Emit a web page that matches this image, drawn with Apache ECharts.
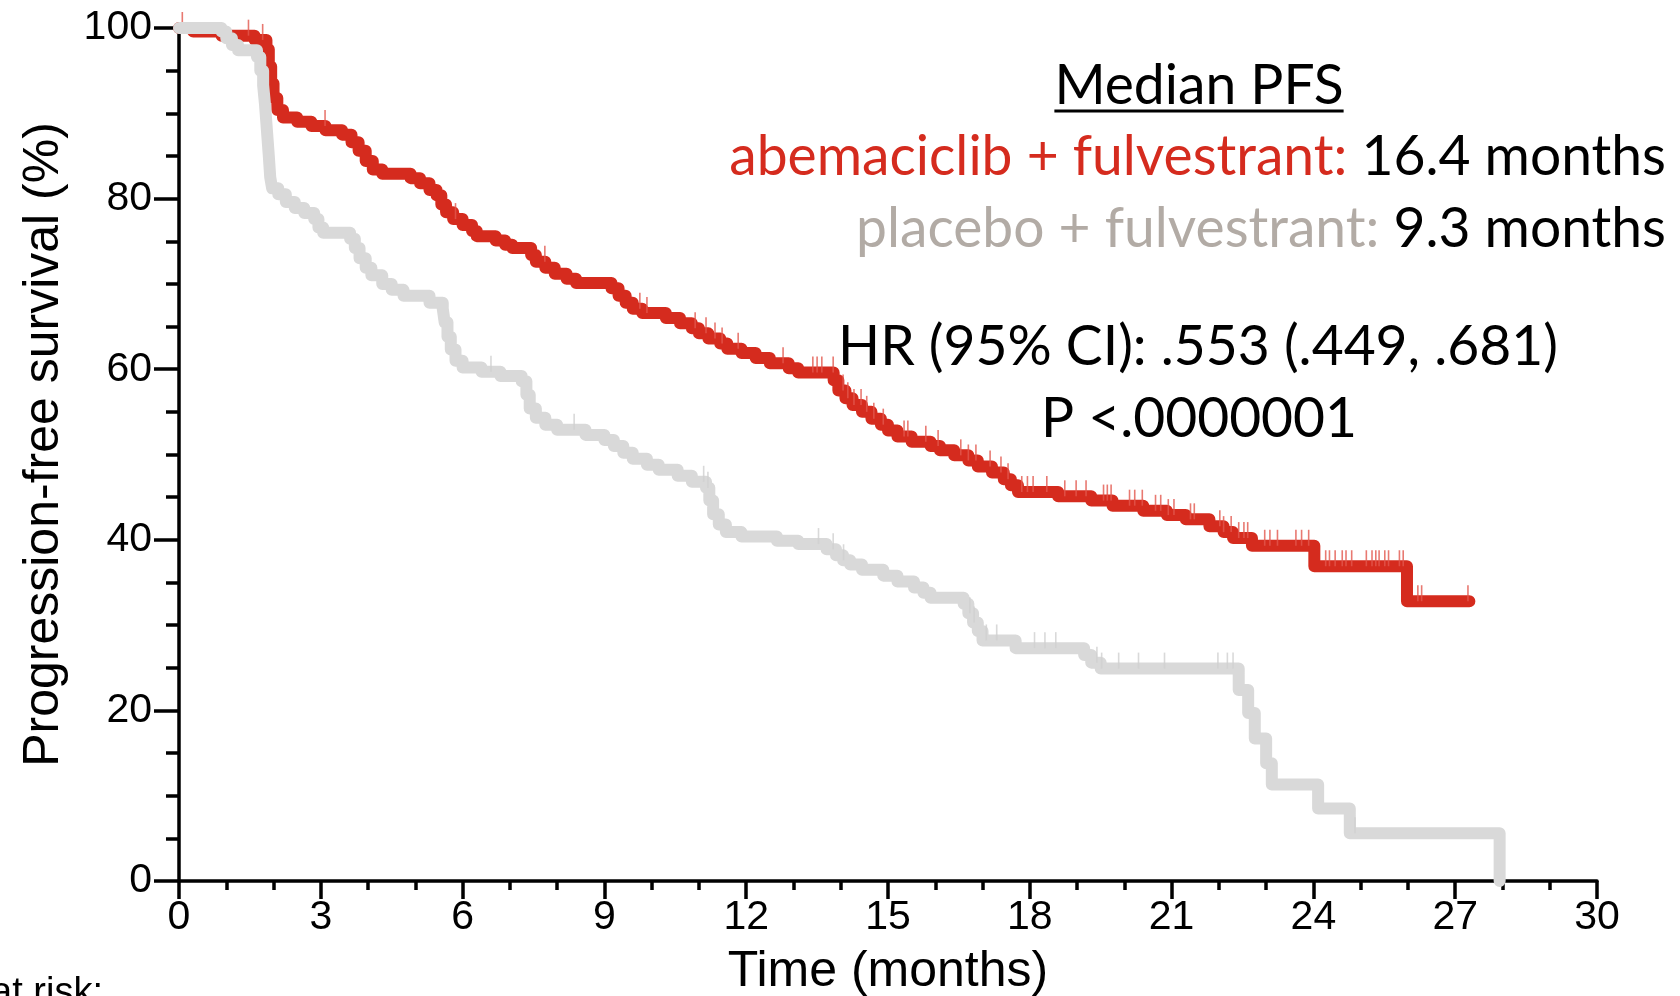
<!DOCTYPE html>
<html><head><meta charset="utf-8">
<script src="https://cdn.jsdelivr.net/npm/echarts@6/dist/echarts.min.js"></script>
<style>html,body{margin:0;padding:0;background:#fff}#c{width:1680px;height:996px}</style>
</head><body><div id="c"></div>
<script>
// ---------- data ----------
const abemaTime = [0,0.3,0.9,1.6,1.85,1.9,1.95,2.0,2.08,2.2,2.5,2.8,3.1,3.45,3.65,3.8,3.95,4.1,4.3,4.9,5.1,5.3,5.45,5.55,5.65,5.8,6.0,6.2,6.3,6.7,6.9,7.05,7.45,7.55,7.75,7.95,8.2,8.4,9.15,9.3,9.45,9.6,9.8,10.3,10.6,10.85,11.0,11.2,11.45,11.6,11.9,12.2,12.5,12.9,13.1,13.85,13.95,14.1,14.25,14.45,14.65,14.85,15.0,15.2,15.5,15.9,16.1,16.4,16.7,16.9,17.2,17.45,17.6,17.75,18.6,19.3,19.75,20.4,20.9,21.3,21.8,22.1,22.3,22.7,24.02,25.98,27.3];
const abemaPFS = [100,99.6,99.1,98.6,97.5,95.5,93.5,91.8,90.4,89.5,89.0,88.5,88.0,87.5,86.6,85.6,84.4,83.4,82.9,82.4,81.8,81.0,80.4,79.3,78.4,77.6,76.9,76.2,75.6,75.1,74.6,74.2,73.4,72.6,71.9,71.2,70.6,70.1,69.5,68.6,67.8,67.1,66.6,66.0,65.4,64.8,64.2,63.6,63.0,62.4,61.9,61.3,60.7,60.1,59.6,58.7,57.5,56.6,55.8,55.0,54.2,53.5,52.8,52.1,51.5,51.0,50.5,49.9,49.3,48.6,47.9,47.1,46.4,45.6,45.1,44.6,44.0,43.4,42.9,42.4,41.6,40.9,40.2,39.3,36.9,32.8,32.8];
const placeboTime = [0,0.9,1.0,1.12,1.25,1.65,1.72,1.78,1.82,1.86,1.9,1.93,1.97,2.1,2.26,2.45,2.65,2.86,2.95,3.05,3.62,3.72,3.82,3.95,4.07,4.3,4.5,4.75,5.3,5.58,5.62,5.68,5.75,5.85,6.0,6.4,6.8,7.25,7.35,7.42,7.55,7.75,8.0,8.6,9.0,9.2,9.4,9.6,9.9,10.15,10.55,10.85,11.15,11.22,11.3,11.42,11.57,11.9,12.65,13.1,13.7,13.9,14.05,14.2,14.45,14.9,15.2,15.55,15.75,15.9,16.6,16.7,16.8,16.9,17.0,17.7,19.15,19.3,19.5,22.42,22.62,22.76,23.0,23.12,24.1,24.77,27.94];
const placeboPFS = [100,99.6,98.8,98.0,97.4,96.6,95.0,93.3,91.0,88.0,85.0,82.5,81.2,80.5,79.6,78.9,78.3,77.6,76.6,76.0,75.3,74.2,73.0,71.9,71.0,70.0,69.3,68.6,67.8,67.1,65.5,63.8,62.3,61.0,60.2,59.7,59.2,58.6,57.0,55.4,54.3,53.5,52.9,52.3,51.7,51.0,50.2,49.5,48.8,48.2,47.5,46.8,46.1,44.6,43.0,41.8,40.9,40.4,39.9,39.5,38.9,38.2,37.6,37.1,36.5,35.8,35.1,34.4,33.8,33.2,32.5,31.4,30.3,29.3,28.2,27.3,26.5,25.6,24.9,22.4,19.7,16.7,13.8,11.3,8.5,5.6,0];
const abemaCensor = [0.07,1.47,1.77,3.09,5.85,7.74,9.75,9.9,10.92,11.15,11.34,11.49,11.83,12.78,13.41,13.5,13.6,13.84,14.05,14.15,14.28,14.43,14.55,14.7,14.9,15.34,15.42,15.8,16.06,16.54,16.7,16.86,17.16,17.39,17.54,17.83,17.95,18.07,18.36,18.74,18.98,19.19,19.56,19.64,19.72,20.11,20.22,20.38,20.66,20.77,20.93,21.05,21.4,21.48,22.02,22.1,22.26,22.42,22.53,22.61,22.97,23.08,23.24,23.63,23.75,23.9,24.26,24.34,24.46,24.61,24.69,24.81,25.12,25.24,25.32,25.39,25.51,25.59,25.82,25.9,26.21,26.29,27.27];
const placeboCensor = [6.6,8.36,11.1,11.19,13.53,13.84,14.06,16.73,16.82,17.08,17.3,18.1,18.32,18.55,19.42,19.52,19.88,20.3,20.85,21.98,22.18,22.3,24.88];
const xTicks = {min: 0, max: 30, step: 3};
const yTicks = {min: 0, max: 100, step: 20};
const xTitle = 'Time (months)';
const yTitle = 'Progression-free survival (%)';
const medianTitle = 'Median PFS';
const armNames = ['abemaciclib + fulvestrant:', 'placebo + fulvestrant:'];
const armMedians = ['16.4 months', '9.3 months'];
const hrText = 'HR (95% CI): .553 (.449, .681)';
const pText = 'P <.0000001';
const riskText = 'at risk:';

// ---------- helpers ----------
const pairs = (t, s) => t.map((v, i) => [v, s[i]]);
function levelAt(t, times, surv) {
  let v = surv[0];
  for (let i = 0; i < times.length; i++) { if (times[i] <= t) v = surv[i]; else break; }
  return v;
}
const RED = '#D52B1E', GREY = '#D9D9D9', GREYTXT = '#B2ABA5';
const annFont = 'Lato';
const ctx = document.createElement('canvas').getContext('2d');
ctx.font = '100px ' + annFont;
const fs = 100 * 937 / ctx.measureText(armNames[0] + ' ' + armMedians[0]).width;
ctx.font = fs + 'px ' + annFont;
const medW = ctx.measureText(medianTitle).width;
const mid = 0.39 * fs - 4; // alphabetic baseline below text middle

const chart = echarts.init(document.getElementById('c'), null, {renderer: 'canvas'});
const axisFont = 'Liberation Sans, Arial, sans-serif';
const AX = 3.5;
chart.setOption({
  animation: false,
  grid: {left: 179, right: 83, top: 28, bottom: 115, containLabel: false, outerBoundsMode: 'none'},
  xAxis: {
    type: 'value', min: xTicks.min, max: xTicks.max, interval: xTicks.step,
    axisLine: {show: true, onZero: false, lineStyle: {color: '#000', width: AX}},
    axisTick: {show: true, length: 18, lineStyle: {color: '#000', width: AX}},
    minorTick: {show: true, splitNumber: 3, length: 9, lineStyle: {color: '#000', width: AX}},
    splitLine: {show: false}, minorSplitLine: {show: false},
    axisLabel: {fontFamily: axisFont, fontSize: 41, color: '#000', margin: 16, showMinLabel: true, showMaxLabel: true},
    name: xTitle, nameLocation: 'middle', nameGap: 66,
    nameTextStyle: {fontFamily: axisFont, fontSize: 50, color: '#000'}
  },
  yAxis: {
    type: 'value', min: yTicks.min, max: yTicks.max, interval: yTicks.step,
    axisLine: {show: true, onZero: false, lineStyle: {color: '#000', width: AX}},
    axisTick: {show: true, length: 25, lineStyle: {color: '#000', width: AX}},
    minorTick: {show: true, splitNumber: 4, length: 13, lineStyle: {color: '#000', width: AX}},
    splitLine: {show: false}, minorSplitLine: {show: false},
    axisLabel: {fontFamily: axisFont, fontSize: 41, color: '#000', margin: 27, showMinLabel: true, showMaxLabel: true},
    name: yTitle, nameLocation: 'middle', nameGap: 110, nameRotate: 90,
    nameTextStyle: {fontFamily: axisFont, fontSize: 50, color: '#000', padding: [0, 0, 0, 20]}
  },
  series: [
    {type: 'line', name: 'abemaciclib + fulvestrant', step: 'end', data: pairs(abemaTime, abemaPFS),
     showSymbol: false, clip: false, z: 2, lineStyle: {color: RED, width: 12, cap: 'round', join: 'round'}},
    {type: 'scatter', silent: true, z: 3, symbol: 'rect', symbolSize: [1.6, 16], symbolOffset: [0, -8],
     itemStyle: {color: '#E2584D'}, data: abemaCensor.map(t => [t, levelAt(t, abemaTime, abemaPFS)])},
    {type: 'line', name: 'placebo + fulvestrant', step: 'end', data: pairs(placeboTime, placeboPFS),
     showSymbol: false, clip: false, z: 4, lineStyle: {color: GREY, width: 12, cap: 'round', join: 'round'}},
    {type: 'scatter', silent: true, z: 5, symbol: 'rect', symbolSize: [1.6, 16], symbolOffset: [0, -8],
     itemStyle: {color: '#CFCFCF'}, data: placeboCensor.map(t => [t, levelAt(t, placeboTime, placeboPFS)])}
  ],
  graphic: [
    {type: 'text', style: {text: medianTitle, x: 1199, y: 104 - mid, align: 'center', verticalAlign: 'middle',
      font: fs + 'px ' + annFont, fill: '#000'}},
    {type: 'line', shape: {x1: 1199 - medW / 2, y1: 111, x2: 1199 + medW / 2, y2: 111}, style: {stroke: '#000', lineWidth: 3}},
    {type: 'text', style: {text: '{r|' + armNames[0] + '}{k| ' + armMedians[0] + '}', x: 1666, y: 175 - mid,
      align: 'right', verticalAlign: 'middle',
      rich: {r: {fill: RED, font: fs + 'px ' + annFont}, k: {fill: '#000', font: fs + 'px ' + annFont}}}},
    {type: 'text', style: {text: '{r|' + armNames[1] + '}{k| ' + armMedians[1] + '}', x: 1666, y: 247 - mid,
      align: 'right', verticalAlign: 'middle',
      rich: {r: {fill: GREYTXT, font: fs + 'px ' + annFont}, k: {fill: '#000', font: fs + 'px ' + annFont}}}},
    {type: 'text', style: {text: hrText, x: 1198, y: 365 - mid, align: 'center', verticalAlign: 'middle',
      font: fs + 'px ' + annFont, fill: '#000'}},
    {type: 'text', style: {text: pText, x: 1199, y: 437 - mid, align: 'center', verticalAlign: 'middle',
      font: fs + 'px ' + annFont, fill: '#000'}},
    {type: 'text', style: {text: riskText, x: 103, y: 994, align: 'right', verticalAlign: 'middle',
      font: '38px ' + axisFont, fill: '#000'}}
  ]
});
</script></body></html>
